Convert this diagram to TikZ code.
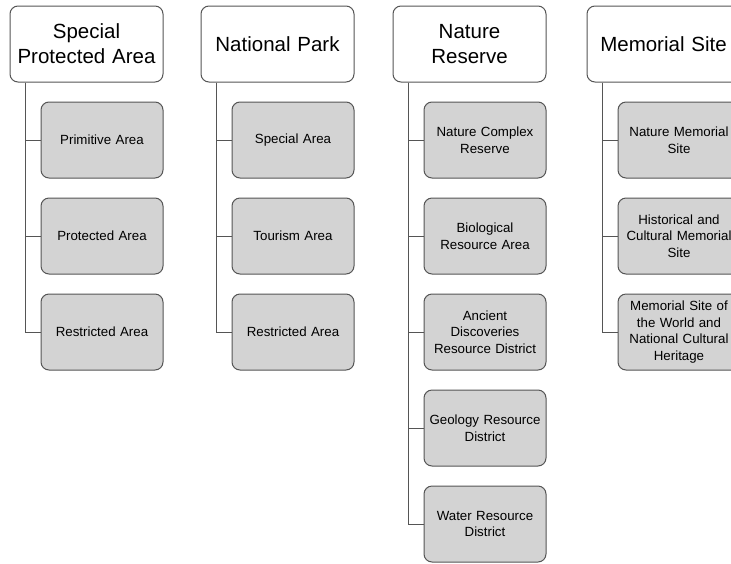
\documentclass[tikz,border=0pt]{standalone}
\usepackage{fontspec}
\setmainfont{Liberation Sans}
\definecolor{edge}{HTML}{555555}
\definecolor{boxfill}{HTML}{D3D3D3}
\begin{document}
\begin{tikzpicture}[x=1pt,y=-1pt,
  head/.style={draw=edge,line width=1pt,fill=white,rounded corners=8pt,minimum width=153pt,minimum height=76pt,
    align=center,text width=145pt,font=\fontsize{20.5}{25}\selectfont,inner sep=0pt},
  child/.style={draw=edge,line width=1pt,fill=boxfill,rounded corners=8pt,minimum width=122pt,minimum height=76pt,
    align=center,text width=116pt,font=\fontsize{13.3}{16.7}\selectfont,inner sep=0pt},
  link/.style={draw=edge,line width=1pt}]
\useasboundingbox (0,0) rectangle (731,563);
\clip (0,0) rectangle (731,563);
% headers
\node[head] (h1) at (86.5,44) {Special\\Protected Area};
\node[head] (h2) at (277.5,44) {National Park};
\node[head] (h3) at (469.5,44) {Nature\\Reserve};
\node[head] (h4) at (663.5,44) {Memorial Site};
% column 1
\node[child] (a1) at (102,140) {Primitive Area};
\node[child] (a2) at (102,236) {Protected Area};
\node[child] (a3) at (102,332) {Restricted Area};
% column 2
\node[child] (b1) at (293,140) {Special Area};
\node[child] (b2) at (293,236) {Tourism Area};
\node[child] (b3) at (293,332) {Restricted Area};
% column 3
\node[child] (c1) at (485,140) {Nature Complex\\Reserve};
\node[child] (c2) at (485,236) {Biological\\Resource Area};
\node[child] (c3) at (485,332) {Ancient\\Discoveries\\Resource District};
\node[child] (c4) at (485,428) {Geology Resource\\District};
\node[child] (c5) at (485,524) {Water Resource\\District};
% column 4
\node[child] (d1) at (679,140) {Nature Memorial\\Site};
\node[child] (d2) at (679,236) {Historical and\\Cultural Memorial\\Site};
\node[child] (d3) at (679,332) {Memorial Site of\\the World and\\National Cultural\\Heritage};
% connectors
\foreach \h/\c in {h1/a1,h1/a2,h1/a3,h2/b1,h2/b2,h2/b3,h3/c1,h3/c2,h3/c3,h3/c4,h3/c5,h4/d1,h4/d2,h4/d3}
  \draw[link] ([xshift=15.5pt]\h.south west) |- (\c.west);
\end{tikzpicture}
\end{document}
